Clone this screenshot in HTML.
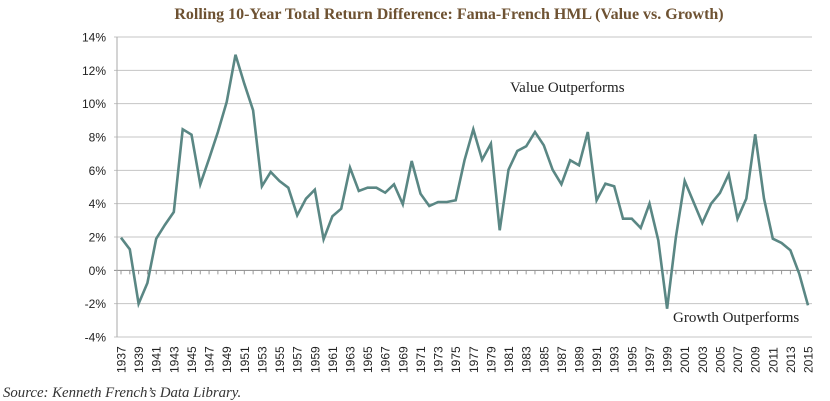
<!DOCTYPE html>
<html><head><meta charset="utf-8"><style>
body{margin:0;background:#fff;width:830px;height:401px;overflow:hidden}
svg{display:block}
</style></head><body>
<svg width="830" height="401" xmlns="http://www.w3.org/2000/svg">
<text x="449" y="19" text-anchor="middle" font-family="Liberation Serif, serif" font-weight="bold" font-size="16" fill="#6e5232">Rolling 10-Year Total Return Difference: Fama-French HML (Value vs. Growth)</text>
<g id="grid"></g><g id="yt"></g><g id="xt"></g><g id="ln"></g>
<text x="510" y="92" font-family="Liberation Serif, serif" font-size="15" fill="#222">Value Outperforms</text>
<text x="673" y="322" font-family="Liberation Serif, serif" font-size="15" fill="#222">Growth Outperforms</text>
<text x="3" y="397" font-family="Liberation Serif, serif" font-style="italic" font-size="14.8" fill="#333">Source: Kenneth French’s Data Library.</text>
</svg>
<script>
const startYear = 1937;
const values = [1.96,1.26,-2.0,-0.76,1.9,2.74,3.5,8.46,8.14,5.16,6.7,8.3,10.1,12.94,11.2,9.6,5.04,5.9,5.36,4.96,3.3,4.3,4.84,1.86,3.24,3.7,6.16,4.76,4.96,4.96,4.66,5.16,3.96,6.56,4.6,3.86,4.1,4.1,4.2,6.6,8.46,6.64,7.6,2.4,6.04,7.16,7.44,8.3,7.5,6.04,5.16,6.6,6.3,8.3,4.2,5.2,5.04,3.1,3.1,2.54,4.0,1.8,-2.3,2.0,5.36,4.1,2.84,4.0,4.64,5.76,3.1,4.3,8.16,4.3,1.9,1.64,1.2,-0.2,-2.1];
const yTicks = [14,12,10,8,6,4,2,0,-2,-4];
const NS='http://www.w3.org/2000/svg';
const x0=121, x1=808, yTop=37, yBot=337, vMax=14, vMin=-4;
const xs=i=>x0+(x1-x0)*i/(values.length-1);
const ys=v=>yTop+(vMax-v)/(vMax-vMin)*(yBot-yTop);
function mk(tag,attrs,parent){const e=document.createElementNS(NS,tag);for(const k in attrs)e.setAttribute(k,attrs[k]);parent.appendChild(e);return e;}
const grid=document.getElementById('grid'), yt=document.getElementById('yt'), xt=document.getElementById('xt'), ln=document.getElementById('ln');
yTicks.forEach(t=>{
  const y=ys(t);
  const g=mk('line',{x1:114,x2:812,y1:y,y2:y,stroke:t===0?'#8a8a8a':'#c4c4c4','stroke-width':1},grid);
  
  
  const tx=mk('text',{x:106,y:y+4.5,'text-anchor':'end','font-family':'Liberation Sans, sans-serif','font-size':12,fill:'#222'},yt);
  tx.textContent=t+'%';
  
  
});
const ax=mk('line',{x1:117,x2:117,y1:yTop,y2:yBot,stroke:'#aaa','stroke-width':1},grid);


values.forEach((v,i)=>{
  const x=xs(i);
  const tk=mk('line',{x1:x,x2:x,y1:ys(0),y2:ys(0)+4,stroke:'#999','stroke-width':1},grid);
  
  
  if(i%2===0){
    const t=mk('text',{transform:`translate(${x+4.5},373) rotate(-90)`,'font-family':'Liberation Sans, sans-serif','font-size':12,fill:'#222'},xt);
    t.textContent=String(startYear+i);
    
    
  }
});
const p=mk('polyline',{points:values.map((v,i)=>xs(i).toFixed(1)+','+ys(v).toFixed(1)).join(' '),fill:'none',stroke:'#5a8784','stroke-width':2.6,'stroke-linejoin':'miter'},ln);


</script>
</body></html>
